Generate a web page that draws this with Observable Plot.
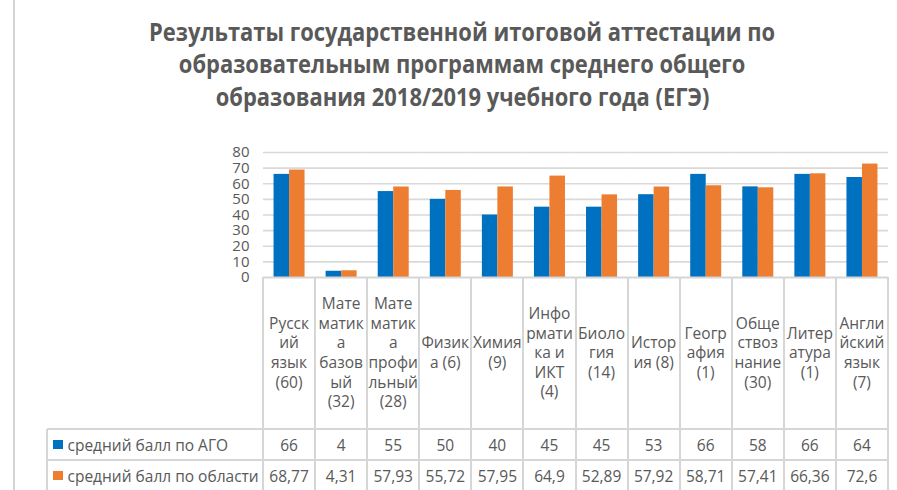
<!DOCTYPE html>
<html><head><meta charset="utf-8">
<script src="https://cdn.jsdelivr.net/npm/d3@7"></script>
<script src="https://cdn.jsdelivr.net/npm/@observablehq/plot@0.6"></script>
<style>
html,body{margin:0;padding:0;background:#fff;}
#root{position:relative;width:897px;height:490px;overflow:hidden;font-family:"Open Sans",sans-serif;color:#595959;}
.tline{position:absolute;left:14px;width:897px;text-align:center;font-weight:700;font-size:25px;line-height:25px;white-space:nowrap;color:#595959;}
.tline span{display:inline-block;transform-origin:50% 50%;}
.hl{position:absolute;height:2px;background:#d6d6d6;}
.vl{position:absolute;width:2px;background:#d6d6d6;}
.cat{position:absolute;display:flex;align-items:center;justify-content:center;text-align:center;white-space:pre-line;font-size:15.5px;line-height:19.6px;}
.val{position:absolute;display:flex;align-items:center;justify-content:center;font-size:15.5px;white-space:nowrap;}
.lab{position:absolute;display:flex;align-items:center;font-size:15.5px;white-space:nowrap;}
.key{display:inline-block;width:9.5px;height:9.5px;margin-right:5px;}
</style></head><body><div id="root"></div>
<script>
const titleLines = [
  "Результаты государственной итоговой аттестации по",
  "образовательным программам среднего общего",
  "образования 2018/2019 учебного года (ЕГЭ)"
];
const categories = [
  "Русск\nий\nязык\n(60)",
  "Мате\nматик\nа\nбазов\nый\n(32)",
  "Мате\nматик\nа\nпрофи\nльный\n(28)",
  "Физик\nа (6)",
  "Химия\n(9)",
  "Инфо\nрмати\nка и\nИКТ\n(4)",
  "Биоло\nгия\n(14)",
  "Истор\nия (8)",
  "Геогр\nафия\n(1)",
  "Обще\nствоз\nнание\n(30)",
  "Литер\nатура\n(1)",
  "Англи\nйский\nязык\n(7)"
];
const seriesNames = ["средний балл по АГО", "средний балл по области"];
const agoValues = [66, 4, 55, 50, 40, 45, 45, 53, 66, 58, 66, 64];
const regionValues = [68.77, 4.31, 57.93, 55.72, 57.95, 64.9, 52.89, 57.92, 58.71, 57.41, 66.36, 72.6];
const seriesColors = ["#0070C0", "#ED7D31"];
const yTicks = [0, 10, 20, 30, 40, 50, 60, 70, 80];

const root = document.getElementById("root");

// left frame line
const frame = document.createElement("div");
frame.style.cssText = "position:absolute;left:13px;top:0;width:2px;height:490px;background:#d4d4d4;";
root.appendChild(frame);

// title
const baselines = [40.7, 73.3, 106];
const spans = titleLines.map((t, i) => {
  const d = document.createElement("div");
  d.className = "tline";
  d.style.top = (baselines[i] - 22.2) + "px";
  const s = document.createElement("span");
  s.textContent = t;
  d.appendChild(s);
  root.appendChild(d);
  return s;
});
const w0 = spans[0].getBoundingClientRect().width;
const k = 626 / w0;
spans.forEach(s => s.style.transform = `scaleX(${k})`);

// chart
const data = categories.flatMap((c, i) => [
  {cat: c, series: seriesNames[0], value: agoValues[i]},
  {cat: c, series: seriesNames[1], value: regionValues[i]}
]);
const svgTop = 140;
const chart = Plot.plot({
  width: 897, height: 140,
  marginTop: 12, marginBottom: 3, marginLeft: 263, marginRight: 9,
  style: {fontFamily: "Open Sans", fontSize: "15px", color: "#595959", overflow: "visible", background: "transparent"},
  facet: {data, x: "cat"},
  fx: {domain: categories, padding: 0, axis: null, round: false, label: null},
  x: {domain: seriesNames, paddingInner: 0, paddingOuter: 0.68, axis: null, round: false},
  y: {domain: [0, 80], ticks: yTicks, tickSize: 0, tickPadding: 14, label: null, tickFormat: d => d},
  color: {domain: seriesNames, range: seriesColors},
  marks: [
    Plot.ruleY(yTicks.filter(d => d > 0), {stroke: "#d9d9d9", strokeWidth: 1.6}),
    Plot.barY(data, {x: "series", y: "value", fill: "series"}),
    Plot.ruleY([0], {stroke: "#d6d6d6", strokeWidth: 2})
  ]
});
chart.style.position = "absolute";
chart.style.left = "0px";
chart.style.top = svgTop + "px";
root.appendChild(chart);

// data table aligned with the fx scale
const fx = chart.scale("fx");
const yS = chart.scale("y");
const [r0, r1] = fx.range;
const step = (r1 - r0) / categories.length;
const colLeft = (c, i) => (fx.apply ? fx.apply(c) : r0 + i * step);
const y0 = svgTop + (yS.apply ? yS.apply(0) : 137);
const catBottom = 429, row1Bottom = 460, row2Bottom = 491, tableLeft = 47;
const tableRight = colLeft(categories[categories.length - 1], categories.length - 1) + step;

function add(cls, css, text) {
  const d = document.createElement("div");
  d.className = cls;
  Object.assign(d.style, css);
  if (text != null) d.textContent = text;
  root.appendChild(d);
  return d;
}
const fmt = v => String(v).replace(".", ",");
categories.forEach((c, i) => {
  const x = colLeft(c, i);
  add("cat", {left: x + "px", top: y0 + "px", width: step + "px", height: (catBottom - y0) + "px"}, c);
  add("val", {left: x + "px", top: catBottom + "px", width: step + "px", height: (row1Bottom - catBottom) + "px"}, fmt(agoValues[i]));
  add("val", {left: x + "px", top: row1Bottom + "px", width: step + "px", height: (row2Bottom - row1Bottom) + "px"}, fmt(regionValues[i]));
  add("vl", {left: (x - 1) + "px", top: y0 + "px", height: (row2Bottom - y0) + "px"});
});
add("vl", {left: (tableRight - 1) + "px", top: y0 + "px", height: (row2Bottom - y0) + "px"});
add("vl", {left: (tableLeft - 1) + "px", top: catBottom + "px", height: (row2Bottom - catBottom) + "px"});
[catBottom, row1Bottom, row2Bottom].forEach(yy => add("hl", {left: tableLeft + "px", top: (yy - 1) + "px", width: (tableRight - tableLeft) + "px"}));
[[catBottom, row1Bottom], [row1Bottom, row2Bottom]].forEach(([a, b], j) => {
  const d = add("lab", {left: (tableLeft + 6) + "px", top: a + "px", height: (b - a) + "px"});
  const key = document.createElement("span");
  key.className = "key";
  key.style.background = seriesColors[j];
  d.appendChild(key);
  d.appendChild(document.createTextNode(seriesNames[j]));
});
</script>
</body></html>
